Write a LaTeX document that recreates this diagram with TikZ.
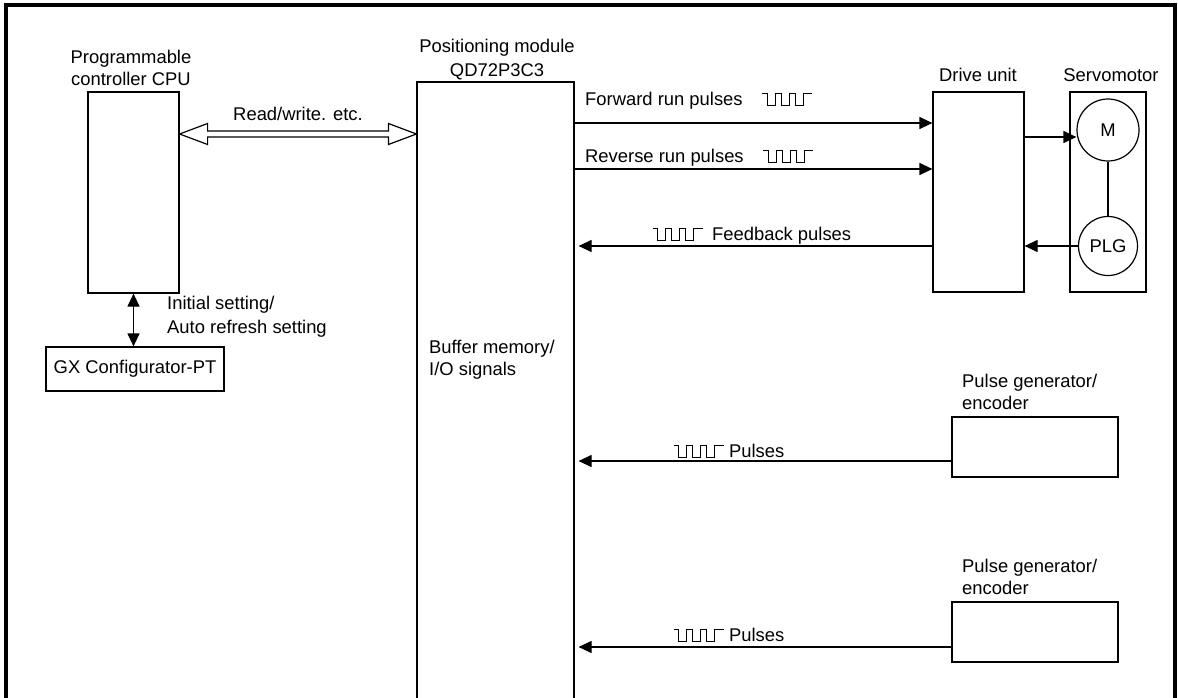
\documentclass[tikz,border=0pt]{standalone}
\usepackage{fontspec}
\setmainfont{Liberation Sans}
\usetikzlibrary{arrows.meta,positioning,calc}

\newcommand{\pulsesym}{\tikz[baseline=0pt,x=1pt,y=1pt,line width=0.9pt]
  \draw (0,12) -- (5,12) -- (5,0) -- (13,0) -- (13,12) -- (19,12) -- (19,0) -- (27,0)
    -- (27,12) -- (33,12) -- (33,0) -- (41,0) -- (41,12) -- (50,12);}

\begin{document}
\begin{tikzpicture}[
    x=1pt, y=-1pt,
    font=\fontsize{18.4}{22}\selectfont,
    box/.style={rectangle, draw, line width=1.2pt, inner sep=0pt},
    unit/.style={circle, draw, line width=1.2pt, inner sep=0pt},
    lbl/.style={inner sep=0pt, align=center},
    arrow/.style={line width=1.2pt, >={Triangle[length=13pt, width=12pt]}},
    hollow/.style={line width=1.2pt, line join=miter}
]
    \useasboundingbox (0,0) rectangle (1178,698);
    \clip (0,0) rectangle (1178,698);

    % frame
    \draw[line width=3.5pt] (6,705) |- (1175,5) -- (1175,705);

    % left side
    \node[box, minimum width=91pt, minimum height=201pt] (cpu) at (133.5,192.5) {};
    \node[lbl] (cpulbl) at (131,68) {Programmable\\controller CPU};
    \node[box, minimum width=178pt, minimum height=44pt] (gx) at (135,369) {GX Configurator-PT};

    % positioning module
    \node[box, minimum width=157pt, minimum height=640pt] (pm) at (495.5,402) {};
    \node[lbl, font=\fontsize{18.4}{24}\selectfont] (pmlbl) at (497,60) {Positioning module\\QD72P3C3};
    \node[lbl, anchor=west, align=left] (buf) at (429,360) {Buffer memory/\\I/O signals};

    % drive and servomotor
    \node[box, minimum width=91pt, minimum height=200pt] (drive) at (978.5,192) {};
    \node[lbl] (drivelbl) at (978,75) {Drive unit};
    \node[box, minimum width=76pt, minimum height=200pt] (servo) at (1108,192) {};
    \node[lbl] (servolbl) at (1111,75) {Servomotor};
    \node[unit, minimum size=62pt] (m) at (1108,130) {M};
    \node[unit, minimum size=59pt] (plg) at (1108,246) {PLG};

    % pulse generators
    \node[box, minimum width=166pt, minimum height=60pt] (pg1) at (1035,447) {};
    \node[lbl, anchor=west, align=left] (pg1lbl) at (962,392) {Pulse generator/\\encoder};
    \node[box, minimum width=166pt, minimum height=60pt] (pg2) at (1035,632) {};
    \node[lbl, anchor=west, align=left] (pg2lbl) at (962,577) {Pulse generator/\\encoder};

    % read/write
    \coordinate (rwl) at (cpu.east |- 0,134);
    \coordinate (rwr) at (pm.west |- 0,134);
    \draw[hollow] (rwl) -- ++(28,-10.5) -- ++(0,7.5) -- ($(rwr)+(-28,-3)$) -- ++(0,-7.5)
        -- (rwr) -- ++(-28,10.5) -- ++(0,-7.5) -- ($(rwl)+(28,3)$) -- ++(0,7.5) -- cycle;
    \node[lbl] (rwlbl) at ($(rwl)!.5!(rwr)+(0,-20)$) {Read/write. etc.};

    \draw[arrow, <->] (cpu.south) -- (cpu.south |- gx.north);
    \node[lbl, anchor=west, align=left, font=\fontsize{18.4}{24}\selectfont] (initlbl) at (167,317)
        {Initial setting/\\Auto refresh setting};

    % pulse lines
    \draw[arrow, ->] (pm.east |- 0,123) -- (drive.west |- 0,123);
    \node[lbl, anchor=west] (fwdlbl) at (585,101) {Forward run pulses\hspace{19pt}\pulsesym};
    \draw[arrow, ->] (pm.east |- 0,169) -- (drive.west |- 0,169);
    \node[lbl, anchor=west] (revlbl) at (585,158) {Reverse run pulses\hspace{19pt}\pulsesym};
    \draw[arrow, ->, shorten >=4pt] (drive.west |- plg) -- (pm.east |- plg);
    \node[lbl, anchor=west] (fblbl) at (652,236) {\pulsesym\hspace{9pt}Feedback pulses};

    \draw[arrow, ->] (drive.east |- 0,137) -- (m.west |- 0,137);
    \draw[arrow, ->] (plg.west) -- (plg.west -| drive.east);
    \draw[line width=1.2pt] (m) -- (plg);

    \draw[arrow, ->, shorten >=4pt] (pg1.west |- 0,461) -- (pm.east |- 0,461);
    \node[lbl, anchor=west] (p1lbl) at (673,451) {\pulsesym\hspace{5pt}Pulses};
    \draw[arrow, ->, shorten >=4pt] (pg2.west |- 0,647) -- (pm.east |- 0,647);
    \node[lbl, anchor=west] (p2lbl) at (673,635) {\pulsesym\hspace{5pt}Pulses};
\end{tikzpicture}
\end{document}
